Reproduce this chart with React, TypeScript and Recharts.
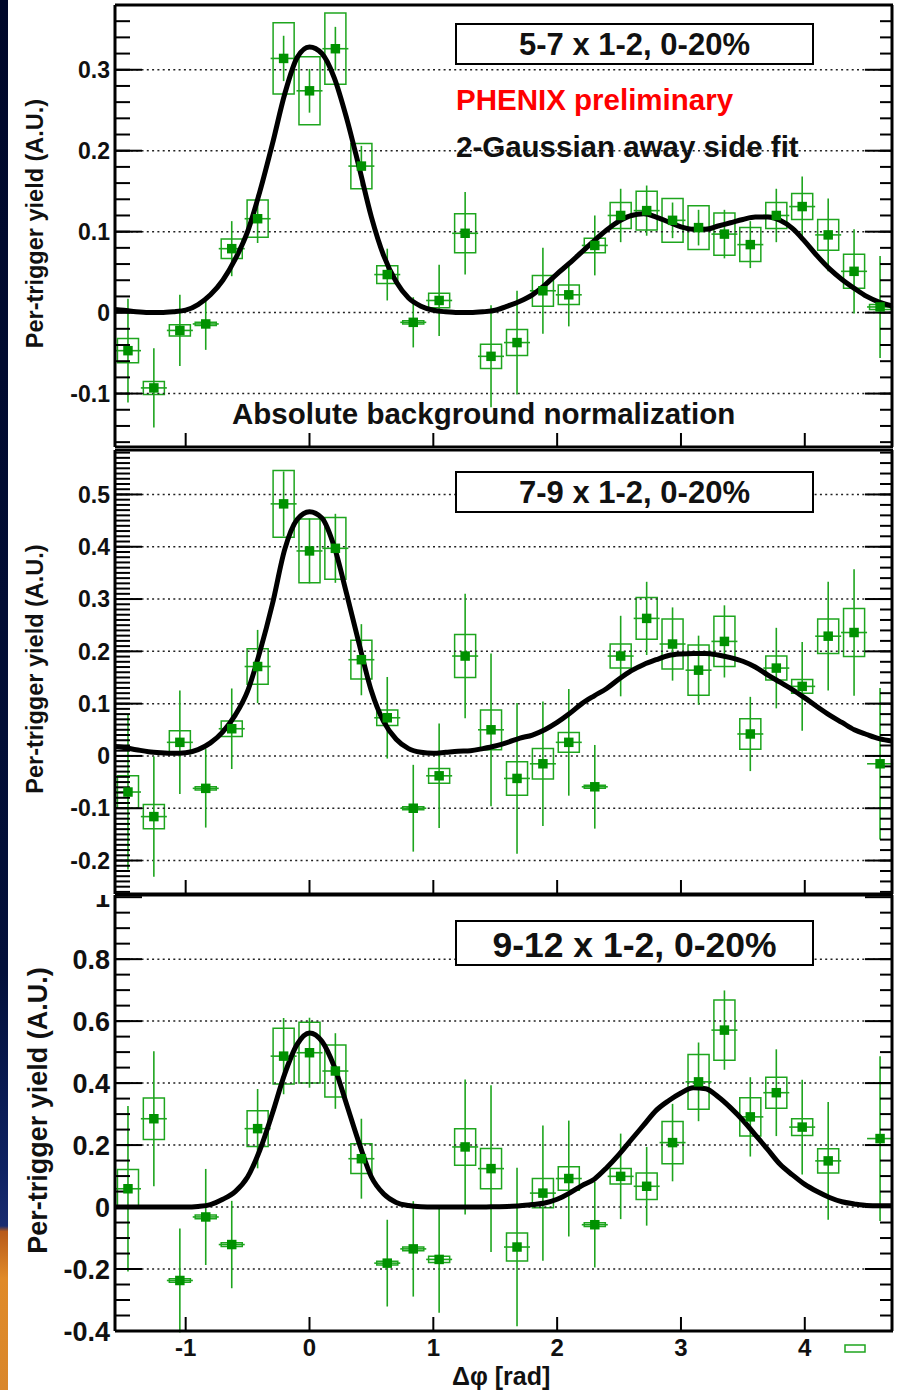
import React from "react";
import {
  ComposedChart,
  XAxis,
  YAxis,
  ZAxis,
  Scatter,
  Line,
  ErrorBar,
  ReferenceArea,
  ReferenceLine,
} from "recharts";

// ---------- data ----------
const X_BINS = [
  -1.466, -1.257, -1.047, -0.838, -0.628, -0.419, -0.209, 0, 0.209, 0.419,
  0.628, 0.838, 1.047, 1.257, 1.466, 1.676, 1.885, 2.094, 2.304, 2.513,
  2.723, 2.932, 3.142, 3.351, 3.56, 3.77, 3.979, 4.189, 4.398, 4.608,
];
const BIN_HALF = 0.105;
const BOX_HALF = 0.085;

const X_DOMAIN: [number, number] = [-1.5708, 4.7124];
const X_MAJOR = [-1, 0, 1, 2, 3, 4];
const X_MINOR = [
  -1.4, -1.2, -0.8, -0.6, -0.4, -0.2, 0.2, 0.4, 0.6, 0.8, 1.2, 1.4, 1.6, 1.8,
  2.2, 2.4, 2.6, 2.8, 3.2, 3.4, 3.6, 3.8, 4.2, 4.4, 4.6,
];

const CURVE_X = [
  -1.571, -1.5, -1.4, -1.3, -1.2, -1.1, -1.0,
  -0.9, -0.8, -0.7, -0.6, -0.5, -0.4, -0.3, -0.2, -0.1,
  0, 0.1, 0.2, 0.3, 0.4, 0.5, 0.6, 0.7, 0.8, 0.9,
  1.0, 1.1, 1.2, 1.3, 1.4, 1.5, 1.6, 1.7, 1.8, 1.9,
  2.0, 2.1, 2.2, 2.3, 2.4, 2.5, 2.6, 2.7, 2.8, 2.9,
  3.0, 3.1, 3.2, 3.3, 3.4, 3.5, 3.6, 3.7, 3.8, 3.9,
  4.0, 4.1, 4.2, 4.3, 4.4, 4.5, 4.6, 4.712,
];

// Panel 1: 5-7 x 1-2
const P1_Y = [
  -0.047, -0.093, -0.022, -0.014, 0.079, 0.116, 0.314, 0.274, 0.326, 0.181,
  0.047, -0.012, 0.015, 0.098, -0.054, -0.037, 0.027, 0.022, 0.083, 0.12,
  0.126, 0.114, 0.105, 0.097, 0.084, 0.12, 0.131, 0.096, 0.051, 0.007,
];
const P1_STAT = [
  0.064, 0.049, 0.044, 0.032, 0.034, 0.03, 0.028, 0.027, 0.027, 0.025,
  0.032, 0.031, 0.044, 0.051, 0.063, 0.064, 0.053, 0.039, 0.037, 0.033,
  0.031, 0.022, 0.022, 0.03, 0.029, 0.033, 0.037, 0.045, 0.052, 0.063,
];
const P1_SYS = [
  0.015, 0.008, 0.007, 0.002, 0.012, 0.023, 0.044, 0.042, 0.044, 0.028,
  0.011, 0.002, 0.009, 0.024, 0.015, 0.016, 0.019, 0.012, 0.009, 0.016,
  0.024, 0.027, 0.027, 0.026, 0.021, 0.016, 0.016, 0.019, 0.021, 0.003,
];
const P1_FIT = [
  0.004, 0.003, 0.001, 0, 0, 0.001, 0.003,
  0.01, 0.022, 0.04, 0.066, 0.1, 0.15, 0.208, 0.27, 0.315,
  0.328, 0.32, 0.29, 0.24, 0.18, 0.118, 0.07, 0.038, 0.018, 0.008,
  0.003, 0.001, 0, 0, 0.001, 0.003, 0.008, 0.014, 0.022, 0.034,
  0.048, 0.061, 0.075, 0.089, 0.102, 0.113, 0.12, 0.122, 0.118, 0.112,
  0.106, 0.103, 0.103, 0.107, 0.111, 0.115, 0.118, 0.118, 0.114, 0.104,
  0.088, 0.07, 0.054, 0.041, 0.03, 0.02, 0.013, 0.008,
];
const P1_TICKS = [-0.1, 0, 0.1, 0.2, 0.3];

// Panel 2: 7-9 x 1-2
const P2_Y = [
  -0.069, -0.116, 0.026, -0.062, 0.052, 0.171, 0.482, 0.392, 0.397, 0.184,
  0.073, -0.1, -0.038, 0.191, 0.05, -0.043, -0.015, 0.026, -0.059, 0.191,
  0.263, 0.214, 0.164, 0.219, 0.042, 0.168, 0.133, 0.229, 0.236, -0.015,
];
const P2_STAT = [
  0.148, 0.115, 0.099, 0.075, 0.077, 0.07, 0.062, 0.062, 0.066, 0.068,
  0.078, 0.083, 0.1, 0.119, 0.146, 0.144, 0.119, 0.102, 0.08, 0.077,
  0.07, 0.07, 0.066, 0.069, 0.071, 0.077, 0.085, 0.104, 0.121, 0.145,
];
const P2_SYS = [
  0.031, 0.023, 0.022, 0.003, 0.015, 0.034, 0.064, 0.061, 0.059, 0.037,
  0.015, 0.003, 0.014, 0.041, 0.038, 0.032, 0.029, 0.019, 0.003, 0.023,
  0.04, 0.048, 0.048, 0.048, 0.029, 0.023, 0.013, 0.033, 0.046, 0,
];
const P2_FIT = [
  0.018, 0.016, 0.012, 0.008, 0.006, 0.005, 0.006,
  0.012, 0.025, 0.046, 0.078, 0.124, 0.2, 0.29, 0.395, 0.452,
  0.467, 0.455, 0.4, 0.31, 0.215, 0.124, 0.065, 0.032, 0.014, 0.007,
  0.005, 0.007, 0.009, 0.01, 0.014, 0.019, 0.026, 0.034, 0.04, 0.05,
  0.064, 0.081, 0.1, 0.115, 0.129, 0.147, 0.163, 0.175, 0.184, 0.192,
  0.195, 0.196, 0.196, 0.193, 0.188, 0.181, 0.17, 0.155, 0.141, 0.127,
  0.111, 0.094, 0.078, 0.064, 0.05, 0.041, 0.033, 0.028,
];
const P2_TICKS = [-0.2, -0.1, 0, 0.1, 0.2, 0.3, 0.4, 0.5];

// Panel 3: 9-12 x 1-2
const P3_Y = [
  0.059, 0.285, -0.237, -0.032, -0.121, 0.253, 0.487, 0.498, 0.439, 0.156,
  -0.181, -0.135, -0.169, 0.194, 0.124, -0.129, 0.045, 0.092, -0.057, 0.099,
  0.067, 0.208, 0.404, 0.571, 0.291, 0.369, 0.258, 0.149, null, 0.221,
];
const P3_STAT = [
  0.267, 0.218, 0.168, 0.155, 0.141, 0.128, 0.123, 0.113, 0.122, 0.129,
  0.14, 0.154, 0.172, 0.218, 0.269, 0.256, 0.218, 0.187, 0.138, 0.138,
  0.127, 0.125, 0.127, 0.128, 0.128, 0.14, 0.153, 0.19, null, 0.266,
];
const P3_SYS = [
  0.062, 0.067, 0.006, 0.006, 0.006, 0.058, 0.09, 0.098, 0.084, 0.048,
  0.006, 0.006, 0.01, 0.059, 0.065, 0.045, 0.047, 0.038, 0.006, 0.025,
  0.043, 0.068, 0.088, 0.097, 0.062, 0.05, 0.027, 0.039, null, 0,
];
const P3_FIT = [
  0, 0, 0, 0, 0, 0, 0,
  0.002, 0.008, 0.025, 0.05, 0.097, 0.185, 0.302, 0.43, 0.525,
  0.562, 0.535, 0.453, 0.331, 0.207, 0.097, 0.042, 0.015, 0.005, 0.001,
  0, 0, 0, 0, 0, 0.001, 0.002, 0.004, 0.008, 0.013,
  0.025, 0.045, 0.069, 0.09, 0.127, 0.17, 0.218, 0.265, 0.312, 0.343,
  0.368, 0.385, 0.382, 0.356, 0.321, 0.28, 0.233, 0.186, 0.138, 0.104,
  0.073, 0.05, 0.031, 0.017, 0.01, 0.005, 0.004, 0.004,
];
const P3_TICKS = [-0.4, -0.2, 0, 0.2, 0.4, 0.6, 0.8, 1];

// ---------- styling ----------
const FONT = '"Liberation Sans", Arial, Helvetica, sans-serif';
const GREEN_MARK = "#009100";
const GREEN_LINE = "#1ea51e";

const seq = (a: number, b: number, s: number) => {
  const out: number[] = [];
  const n = Math.round((b - a) / s);
  for (let i = 0; i <= n; i++) out.push(+(a + i * s).toFixed(4));
  return out;
};

const emptyTick = () => <g />;

// x tick label drawn below the (mirrored, inward-ticked) bottom axis
const xLabelTick = (props: any) => (
  <text
    x={props.x}
    y={props.y + 41}
    textAnchor="middle"
    fontFamily={FONT}
    fontWeight={700}
    fontSize={24}
    fill="#111"
  >
    {props.payload.value}
  </text>
);

type PanelProps = {
  top: number;
  height: number;
  margin: { top: number; right: number; bottom: number; left: number };
  domain: [number, number];
  labelTicks: number[];
  majorTicks: number[];
  minorL: number[];
  minorR: number[];
  grid: number[];
  ys: (number | null)[];
  stat: (number | null)[];
  sys: (number | null)[];
  fit: number[];
  labelSize: number;
  xLabels?: boolean;
  bg?: string;
};

function Panel(p: PanelProps) {
  const points: { x: number; y: number; ex: number; ey: number; sys: number }[] = [];
  X_BINS.forEach((x, i) => {
    const y = p.ys[i];
    if (y !== null && y !== undefined) {
      points.push({ x, y, ex: BIN_HALF, ey: p.stat[i] as number, sys: p.sys[i] as number });
    }
  });
  const curve = CURVE_X.map((x, i) => ({ x, y: p.fit[i] }));
  const axisLine = { stroke: "#000", strokeWidth: 3 };
  const tickLine = { stroke: "#000", strokeWidth: 2 };
  const labelStyle = { fontFamily: FONT, fontWeight: 700, fontSize: p.labelSize, fill: "#111" };

  return (
    <div
      style={{
        position: "absolute",
        left: 0,
        top: p.top,
        width: 900,
        height: p.height,
        background: p.bg,
        overflow: "hidden",
      }}
    >
      <ComposedChart width={900} height={p.height} margin={p.margin}>
        <XAxis xAxisId="b" dataKey="x" type="number" domain={X_DOMAIN} allowDataOverflow
          orientation="bottom" mirror height={1} ticks={X_MAJOR} interval={0}
          tickSize={14} tick={p.xLabels ? xLabelTick : emptyTick} tickLine={tickLine} axisLine={axisLine} />
        <XAxis xAxisId="bm" type="number" domain={X_DOMAIN} allowDataOverflow
          orientation="bottom" mirror height={1} ticks={X_MINOR} interval={0}
          tickSize={8} tick={emptyTick} tickLine={tickLine} axisLine={false} />
        <XAxis xAxisId="t" type="number" domain={X_DOMAIN} allowDataOverflow
          orientation="top" mirror height={1} ticks={X_MAJOR} interval={0}
          tickSize={14} tick={emptyTick} tickLine={tickLine} axisLine={axisLine} />
        <XAxis xAxisId="tm" type="number" domain={X_DOMAIN} allowDataOverflow
          orientation="top" mirror height={1} ticks={X_MINOR} interval={0}
          tickSize={8} tick={emptyTick} tickLine={tickLine} axisLine={false} />
        <YAxis yAxisId="ylbl" type="number" domain={p.domain} allowDataOverflow
          orientation="left" width={100} ticks={p.labelTicks} interval={0}
          tickLine={false} axisLine={false} tickSize={3} tickMargin={2} tick={labelStyle} />
        <YAxis yAxisId="main" dataKey="y" type="number" domain={p.domain} allowDataOverflow
          orientation="left" mirror width={1} ticks={p.majorTicks} interval={0}
          tickSize={27} tick={emptyTick} tickLine={tickLine} axisLine={axisLine} />
        <YAxis yAxisId="ml" type="number" domain={p.domain} allowDataOverflow
          orientation="left" mirror width={1} ticks={p.minorL} interval={0}
          tickSize={14} tick={emptyTick} tickLine={tickLine} axisLine={false} />
        <YAxis yAxisId="r" type="number" domain={p.domain} allowDataOverflow
          orientation="right" mirror width={1} ticks={p.majorTicks} interval={0}
          tickSize={27} tick={emptyTick} tickLine={tickLine} axisLine={axisLine} />
        <YAxis yAxisId="mr" type="number" domain={p.domain} allowDataOverflow
          orientation="right" mirror width={1} ticks={p.minorR} interval={0}
          tickSize={13} tick={emptyTick} tickLine={tickLine} axisLine={false} />
        <ZAxis range={[90, 90]} />
        {p.grid.map((v) => (
          <ReferenceLine key={"g" + v} xAxisId="b" yAxisId="main" y={v}
            stroke="#222" strokeWidth={1.5} strokeDasharray="2 3.3" />
        ))}
        {points
          .filter((d) => d.sys > 0)
          .map((d, i) => (
            <ReferenceArea key={"box" + i} xAxisId="b" yAxisId="main"
              x1={d.x - BOX_HALF} x2={d.x + BOX_HALF} y1={d.y - d.sys} y2={d.y + d.sys}
              fill="none" fillOpacity={0} stroke={GREEN_LINE} strokeWidth={1.5}
              strokeOpacity={1} ifOverflow="visible" />
          ))}
        <Scatter xAxisId="b" yAxisId="main" data={points} dataKey="y"
          fill={GREEN_MARK} shape="square" isAnimationActive={false}>
          <ErrorBar dataKey="ey" direction="y" width={0} stroke={GREEN_LINE} strokeWidth={1.6} />
          <ErrorBar dataKey="ex" direction="x" width={0} stroke={GREEN_LINE} strokeWidth={1.6} />
        </Scatter>
        <Line xAxisId="b" yAxisId="main" data={curve} dataKey="y" type="monotone"
          stroke="#000" strokeWidth={5} dot={false} activeDot={false}
          isAnimationActive={false} />
      </ComposedChart>
    </div>
  );
}

const textStyle = { fontFamily: FONT, fontWeight: 700 } as const;

export default function App() {
  return (
    <div style={{ position: "absolute", left: 0, top: 0, width: 900, height: 1390, background: "#fff", overflow: "hidden" }}>
      <Panel
        top={880}
        height={510}
        margin={{ top: 15, right: 7, bottom: 59, left: 15 }}
        domain={[-0.4, 1.007]}
        labelTicks={P3_TICKS}
        majorTicks={P3_TICKS}
        minorL={seq(-0.35, 0.95, 0.05)}
        minorR={seq(-0.35, 0.95, 0.05)}
        grid={[-0.2, 0, 0.2, 0.4, 0.6, 0.8]}
        ys={P3_Y}
        stat={P3_STAT}
        sys={P3_SYS}
        fit={P3_FIT}
        labelSize={27}
        xLabels
      />
      <Panel
        top={449}
        height={446}
        margin={{ top: 1, right: 7, bottom: 1, left: 15 }}
        domain={[-0.264, 0.585]}
        labelTicks={P2_TICKS}
        majorTicks={P2_TICKS}
        minorL={seq(-0.26, 0.58, 0.01)}
        minorR={seq(-0.26, 0.58, 0.02)}
        grid={P2_TICKS}
        ys={P2_Y}
        stat={P2_STAT}
        sys={P2_SYS}
        fit={P2_FIT}
        labelSize={23}
        bg="#fff"
      />
      <Panel
        top={0}
        height={449}
        margin={{ top: 5, right: 7, bottom: 2, left: 15 }}
        domain={[-0.166, 0.38]}
        labelTicks={P1_TICKS}
        majorTicks={P1_TICKS}
        minorL={seq(-0.16, 0.36, 0.02)}
        minorR={seq(-0.16, 0.36, 0.02)}
        grid={P1_TICKS}
        ys={P1_Y}
        stat={P1_STAT}
        sys={P1_SYS}
        fit={P1_FIT}
        labelSize={23}
        bg="#fff"
      />
      {/* slide background strip */}
      <div
        style={{
          position: "absolute",
          left: 0,
          top: 0,
          width: 8,
          height: 1390,
          background:
            "linear-gradient(to bottom, #00082a 0%, #03103a 70%, #0e2262 84%, #1a2c70 88.2%, #b85a1a 88.6%, #e08a28 92%, #d9872c 100%)",
        }}
      />
      <svg width={900} height={1390} style={{ position: "absolute", left: 0, top: 0, pointerEvents: "none" }}>
        {/* panel 1 texts */}
        <rect x={456} y={24} width={357} height={40} fill="#fff" stroke="#000" strokeWidth={2} />
        <text x={634.5} y={55} textAnchor="middle" fontSize={31} fill="#111" style={textStyle}>5-7 x 1-2, 0-20%</text>
        <text x={456} y={110} fontSize={29.5} fill="#ff0000" style={textStyle}>PHENIX preliminary</text>
        <text x={456} y={157} fontSize={29.5} fill="#111" style={textStyle}>2-Gaussian away side fit</text>
        <text x={232} y={424} fontSize={29.5} fill="#111" style={textStyle}>Absolute background normalization</text>
        <text x={43} y={223.5} transform="rotate(-90 43 223.5)" textAnchor="middle" fontSize={23.5} fill="#111" style={textStyle}>Per-trigger yield (A.U.)</text>

        {/* panel 2 texts */}
        <rect x={456} y={472} width={357} height={40} fill="#fff" stroke="#000" strokeWidth={2} />
        <text x={634.5} y={503} textAnchor="middle" fontSize={31} fill="#111" style={textStyle}>7-9 x 1-2, 0-20%</text>
        <text x={43} y={669} transform="rotate(-90 43 669)" textAnchor="middle" fontSize={23.5} fill="#111" style={textStyle}>Per-trigger yield (A.U.)</text>

        {/* panel 3 texts */}
        <rect x={456} y={921} width={357} height={44} fill="#fff" stroke="#000" strokeWidth={2} />
        <text x={634.5} y={957} textAnchor="middle" fontSize={35.5} fill="#111" style={textStyle}>9-12 x 1-2, 0-20%</text>
        <text x={47} y={1110.5} transform="rotate(-90 47 1110.5)" textAnchor="middle" fontSize={27} fill="#111" style={textStyle}>Per-trigger yield (A.U.)</text>
        <text x={452} y={1385} fontSize={25} fill="#111" style={textStyle}>Δφ [rad]</text>
        <rect x={845} y={1345} width={20} height={7} fill="none" stroke={GREEN_LINE} strokeWidth={1.5} />
      </svg>
    </div>
  );
}
